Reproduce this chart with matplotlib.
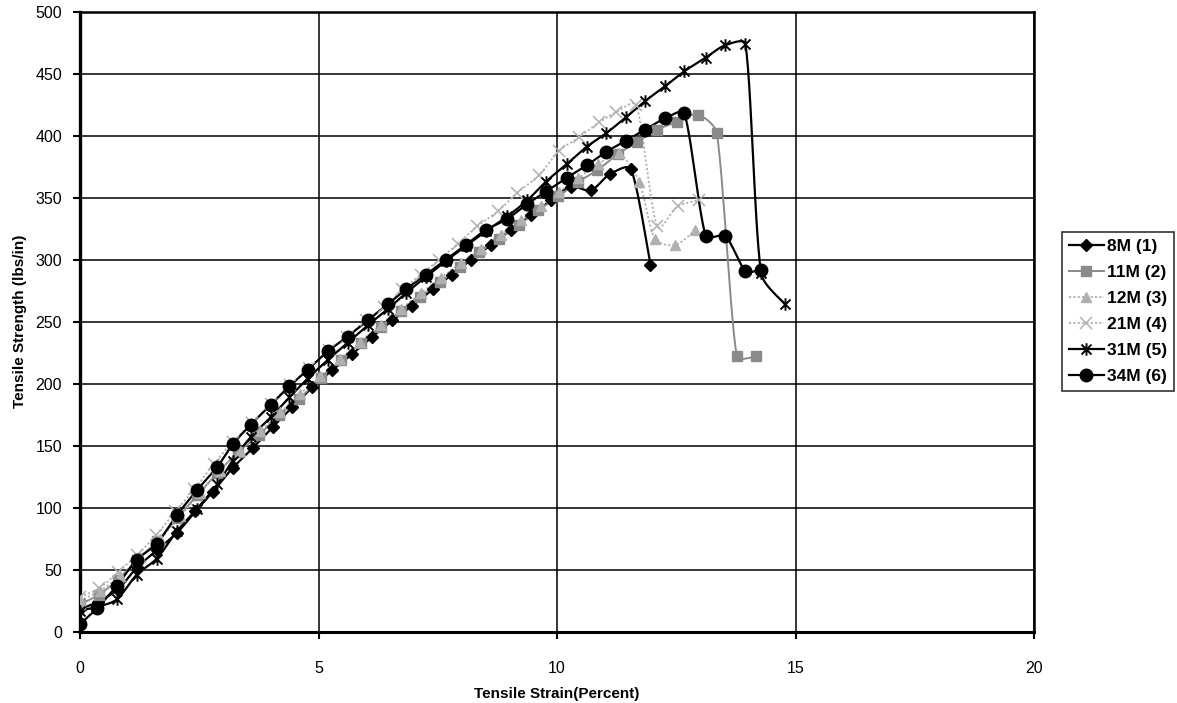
import numpy as np
import matplotlib
matplotlib.use("Agg")
import matplotlib.pyplot as plt
from matplotlib.path import Path
from matplotlib.lines import Line2D

# ---------------- data ----------------
series_names = ["8M (1)", "11M (2)", "12M (3)", "21M (4)", "31M (5)", "34M (6)"]

strain_8M = [0, 0.37, 0.79, 1.2, 1.62, 2.04, 2.42, 2.79, 3.2, 3.62, 4.04, 4.45, 4.87, 5.29,
             5.71, 6.13, 6.55, 6.97, 7.39, 7.8, 8.2, 8.62, 9.04, 9.46, 9.88, 10.29, 10.71,
             11.11, 11.55, 11.96]
strength_8M = [18, 24, 34, 52, 66, 80, 97, 113, 132, 148, 165, 181, 197, 211,
               224, 238, 251, 263, 276, 288, 300, 312, 324, 336, 348, 359, 356,
               369, 373, 296]

strain_11M = [0, 0.4, 0.8, 1.2, 1.62, 2.04, 2.46, 2.88, 3.32, 3.76, 4.18, 4.6, 5.05, 5.47,
              5.89, 6.31, 6.73, 7.13, 7.55, 7.96, 8.37, 8.79, 9.21, 9.61, 10.03, 10.45,
              10.84, 11.27, 11.68, 12.1, 12.52, 12.95, 13.35, 13.77, 14.18]
strength_11M = [22, 30, 42, 58, 73, 92, 110, 128, 145, 159, 175, 188, 205, 219,
                233, 246, 259, 270, 282, 294, 306, 317, 328, 340, 351, 363,
                372, 385, 395, 405, 411, 417, 402, 222, 222]

strain_12M = [0, 0.42, 0.84, 1.26, 1.68, 2.1, 2.52, 2.94, 3.36, 3.78, 4.2, 4.62, 5.04, 5.46,
              5.88, 6.3, 6.72, 7.14, 7.56, 7.98, 8.4, 8.82, 9.24, 9.66, 10.05, 10.45,
              10.87, 11.29, 11.72, 12.05, 12.48, 12.9]
strength_12M = [25, 33, 45, 60, 75, 93, 112, 130, 146, 162, 177, 192, 206, 220,
                234, 247, 260, 273, 285, 297, 309, 320, 332, 343, 355, 366,
                377, 386, 363, 317, 312, 324]

strain_21M = [0, 0.4, 0.8, 1.2, 1.6, 2.0, 2.4, 2.8, 3.2, 3.6, 4.0, 4.4, 4.8, 5.22,
              5.6, 5.99, 6.38, 6.76, 7.15, 7.53, 7.92, 8.33, 8.76, 9.17, 9.62, 10.05,
              10.47, 10.89, 11.24, 11.66, 12.1, 12.53, 12.97]
strength_21M = [28, 35, 48, 62, 78, 97, 115, 135, 153, 168, 184, 199, 213, 227,
                238, 251, 262, 276, 288, 300, 313, 327, 339, 354, 368, 388,
                399, 411, 419, 425, 327, 343, 348]

strain_31M = [0, 0.36, 0.77, 1.19, 1.61, 2.03, 2.45, 2.88, 3.2, 3.58, 4.0, 4.39, 4.77, 5.19,
              5.61, 6.03, 6.45, 6.83, 7.25, 7.67, 8.09, 8.51, 8.96, 9.38, 9.77, 10.2,
              10.62, 11.03, 11.45, 11.85, 12.27, 12.67, 13.12, 13.53, 13.95, 14.28, 14.78]
strength_31M = [17, 20, 26, 46, 59, 81, 99, 119, 138, 157, 173, 189, 204, 219,
                233, 247, 260, 273, 286, 299, 311, 323, 335, 348, 363, 377,
                391, 402, 415, 428, 440, 452, 463, 473, 474, 289, 264]

strain_34M = [0, 0.36, 0.77, 1.19, 1.61, 2.03, 2.45, 2.88, 3.2, 3.58, 4.0, 4.39, 4.77, 5.19,
              5.61, 6.03, 6.45, 6.83, 7.25, 7.67, 8.09, 8.51, 8.96, 9.38, 9.77, 10.2,
              10.62, 11.03, 11.45, 11.85, 12.27, 12.67, 13.12, 13.53, 13.95, 14.28]
strength_34M = [6, 19, 37, 58, 71, 94, 114, 133, 151, 167, 183, 198, 211, 226,
                238, 251, 264, 276, 288, 300, 312, 324, 333, 345, 355, 366,
                376, 387, 396, 405, 414, 418, 319, 319, 291, 292]

x_ticks = [0, 5, 10, 15, 20]
y_ticks = [0, 50, 100, 150, 200, 250, 300, 350, 400, 450, 500]
x_label = "Tensile Strain(Percent)"
y_label = "Tensile Strength (lbs/in)"

# ---------------- styling ----------------
plt.rcParams["font.family"] = ["Liberation Sans", "DejaVu Sans"]

star = Path([(0, -1), (0, 1), (-0.8, -0.8), (0.8, 0.8), (-0.8, 0.8), (0.8, -0.8)],
            [Path.MOVETO, Path.LINETO, Path.MOVETO, Path.LINETO, Path.MOVETO, Path.LINETO])

LIGHT = "#b0b0b0"
GREY = "#8a8a8a"
styles = [
    dict(color="black", ls="-", lw=1.6, marker="D", ms=6, mfc="black", mec="black", mew=1),
    dict(color=GREY, ls="-", lw=1.4, marker="s", ms=7, mfc=GREY, mec=GREY, mew=1),
    dict(color=LIGHT, ls=(0, (1.2, 1.2)), lw=1.3, marker="^", ms=7, mfc=LIGHT, mec=LIGHT, mew=1),
    dict(color=LIGHT, ls=(0, (1.2, 1.2)), lw=1.3, marker="x", ms=8, mfc=LIGHT, mec=LIGHT, mew=1.1),
    dict(color="black", ls="-", lw=1.6, marker=star, ms=9, mfc="black", mec="black", mew=1.4),
    dict(color="black", ls="-", lw=1.6, marker="o", ms=9, mfc="black", mec="black", mew=1),
]

data = [(strain_8M, strength_8M), (strain_11M, strength_11M), (strain_12M, strength_12M),
        (strain_21M, strength_21M), (strain_31M, strength_31M), (strain_34M, strength_34M)]


def _clip(v, maxlen):
    n = np.hypot(*v)
    return v if n <= maxlen or n == 0 else v * (maxlen / n)


def smooth(x, y, n=14, kx=38.45):
    """Bezier smoothing (similar to Excel's smoothed line) with limited overshoot."""
    p = np.column_stack([np.asarray(x, float) * kx, np.asarray(y, float)])
    out = [p[0]]
    for i in range(len(p) - 1):
        p0 = p[i - 1] if i > 0 else p[i]
        p1, p2 = p[i], p[i + 1]
        p3 = p[i + 2] if i + 2 < len(p) else p[i + 1]
        seglen = np.hypot(*(p2 - p1))
        c1 = p1 + _clip((p2 - p0) / 6.0, 0.3 * seglen)
        c2 = p2 - _clip((p3 - p1) / 6.0, 0.3 * seglen)
        t = np.linspace(0, 1, n)[1:, None]
        seg = ((1 - t) ** 3) * p1 + 3 * ((1 - t) ** 2) * t * c1 + 3 * (1 - t) * t ** 2 * c2 + t ** 3 * p2
        out.extend(seg)
    out = np.array(out)
    return out[:, 0] / kx, out[:, 1]


fig = plt.figure(figsize=(11.77, 7.03), dpi=100)
ax = fig.add_axes([80 / 1177, 1 - 631.7 / 703, (1034 - 80) / 1177, (631.7 - 11.7) / 703])

handles = []
for (xs, ys), st, name in zip(data, styles, series_names):
    sx, sy = smooth(xs, ys)
    ax.plot(sx, sy, color=st["color"], ls=st["ls"], lw=st["lw"], zorder=3)
    ax.plot(xs, ys, ls="none", marker=st["marker"], ms=st["ms"], mfc=st["mfc"],
            mec=st["mec"], mew=st["mew"], zorder=4)
    handles.append(Line2D([], [], color=st["color"], ls=st["ls"], lw=st["lw"],
                          marker=st["marker"], ms=st["ms"], mfc=st["mfc"], mec=st["mec"],
                          mew=st["mew"], label=name))

ax.set_xlim(0, 20)
ax.set_ylim(0, 500)
ax.set_xticks(x_ticks)
ax.set_yticks(y_ticks)
ax.grid(True, color="black", lw=1.1)
ax.set_axisbelow(True)
for s in ax.spines.values():
    s.set_linewidth(1.8)
ax.spines["left"].set_linewidth(2.4)
ax.spines["bottom"].set_linewidth(2.2)
ax.tick_params(axis="x", direction="out", length=5, width=1.5, pad=16, labelsize=11.5)
ax.tick_params(axis="y", direction="out", length=5, width=1.5, pad=8, labelsize=11.5)
ax.set_xlabel(x_label, fontsize=11, fontweight="bold", labelpad=8)
ax.set_ylabel(y_label, fontsize=11, fontweight="bold", labelpad=6)

leg = fig.legend(handles=handles, loc="upper left", bbox_to_anchor=(1062 / 1177, 1 - 232 / 703),
                 bbox_transform=fig.transFigure, frameon=True, fancybox=False,
                 edgecolor="black", prop=dict(size=12.5, weight="bold"),
                 handlelength=2.0, handletextpad=0.2,
                 labelspacing=0.62, borderpad=0.4, borderaxespad=0)
leg.get_frame().set_linewidth(1.2)

fig.savefig("out.png", dpi=100)
